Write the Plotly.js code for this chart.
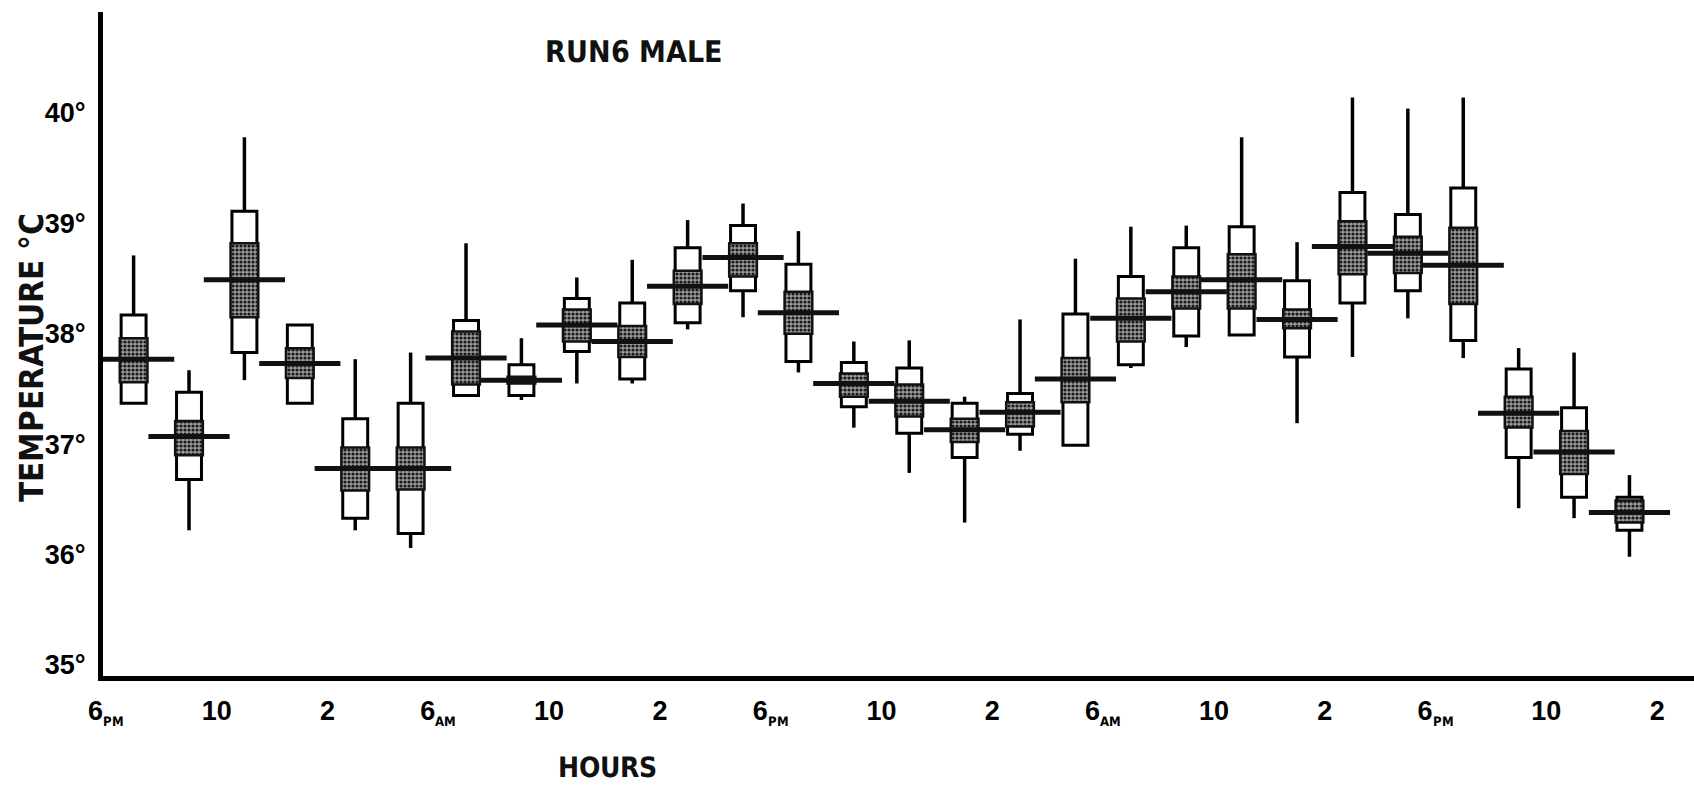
<!DOCTYPE html>
<html>
<head>
<meta charset="utf-8">
<script src="https://cdn.plot.ly/plotly-3.0.1.min.js"></script>
<style>
  @font-face {
    font-family: 'CondBold';
    src: local('Liberation Sans Narrow Bold'), local('LiberationSansNarrow-Bold'),
         local('Noto Sans ExtraCondensed Bold'), local('NotoSans-ExtraCondensedBold'),
         local('Noto Sans Condensed Bold'), local('NotoSans-CondensedBold'),
         local('DejaVu Sans Condensed Bold'), local('DejaVuSansCondensed-Bold');
    font-weight: 700;
  }
  html, body { margin: 0; padding: 0; background: #ffffff; }
  #chart { width: 1694px; height: 786px; }
</style>
</head>
<body>
<div id="chart"></div>
<script>
// Hours after 6 PM of day 1 at which each reading was taken
const hours = [1, 3, 5, 7, 9, 11, 13, 15, 17, 19, 21, 23, 25, 27, 29, 31, 33, 35, 37, 39, 41, 43, 45, 47, 49, 51, 53, 55];

// Temperatures (deg C)
const whiskerHigh = [38.71, 37.67, 39.78, 38.08, 37.77, 37.83, 38.82, 37.96, 38.51, 38.67, 39.03, 39.18, 38.93, 37.93, 37.94, 37.43, 38.13, 38.68, 38.97, 38.98, 39.78, 38.83, 40.14, 40.04, 40.14, 37.87, 37.83, 36.72];
const boxHigh     = [38.17, 37.47, 39.11, 38.08, 37.23, 37.37, 38.12, 37.72, 38.32, 38.28, 38.78, 38.98, 38.63, 37.74, 37.69, 37.37, 37.46, 38.18, 38.52, 38.78, 38.97, 38.48, 39.28, 39.08, 39.32, 37.68, 37.33, 36.52];
const shadeHigh   = [37.96, 37.21, 38.82, 37.87, 36.97, 36.97, 38.02, 37.61, 38.22, 38.07, 38.57, 38.82, 38.38, 37.64, 37.54, 37.23, 37.38, 37.78, 38.32, 38.52, 38.72, 38.22, 39.02, 38.88, 38.96, 37.43, 37.12, 36.49];
const meanTemp    = [37.77, 37.07, 38.49, 37.73, 36.78, 36.78, 37.78, 37.58, 38.08, 37.93, 38.43, 38.69, 38.19, 37.55, 37.39, 37.13, 37.29, 37.59, 38.14, 38.38, 38.49, 38.13, 38.79, 38.73, 38.62, 37.28, 36.93, 36.38];
const shadeLow    = [37.56, 36.90, 38.15, 37.60, 36.58, 36.59, 37.54, 37.55, 37.93, 37.79, 38.27, 38.52, 38.00, 37.43, 37.25, 37.02, 37.16, 37.38, 37.93, 38.23, 38.23, 38.05, 38.54, 38.55, 38.27, 37.15, 36.73, 36.29];
const boxLow      = [37.37, 36.68, 37.83, 37.37, 36.33, 36.19, 37.44, 37.44, 37.84, 37.59, 38.10, 38.39, 37.75, 37.34, 37.10, 36.88, 37.09, 36.99, 37.72, 37.98, 37.99, 37.79, 38.28, 38.39, 37.94, 36.88, 36.52, 36.22];
const whiskerLow  = [37.37, 36.22, 37.58, 37.37, 36.22, 36.06, 37.44, 37.40, 37.55, 37.55, 38.04, 38.15, 37.65, 37.15, 36.74, 36.29, 36.94, 36.99, 37.69, 37.88, 37.99, 37.19, 37.79, 38.14, 37.78, 36.42, 36.33, 35.98];

// Axis ticks
const tickHours  = [0, 4, 8, 12, 16, 20, 24, 28, 32, 36, 40, 44, 48, 52, 56];
const tickLabels = ['6PM', '10', '2', '6AM', '10', '2', '6PM', '10', '2', '6AM', '10', '2', '6PM', '10', '2'];
const tempTicks  = [35, 36, 37, 38, 39, 40];
const tempLabels = ['35°', '36°', '37°', '38°', '39°', '40°'];

const condFamily = "CondBold, 'DejaVu Sans Condensed', sans-serif";

const tickText = tickLabels.map(function (s) {
  return s.replace(/^(\d+)(AM|PM)$/, '$1<sub><span style="font-size:13px;font-family:CondBold, sans-serif">$2</span></sub>');
});

const diff = function (a, b) { return a.map(function (v, i) { return v - b[i]; }); };
const zeros = hours.map(function () { return 0; });

const outerBox = {
  type: 'bar', x: hours, base: boxLow, y: diff(boxHigh, boxLow), width: 0.9,
  marker: { color: '#ffffff', line: { color: '#000000', width: 3 } },
  hoverinfo: 'skip', showlegend: false
};
const shadedBox = {
  type: 'bar', x: hours, base: shadeLow, y: diff(shadeHigh, shadeLow), width: 1.0,
  marker: {
    color: '#8e8e8e',
    line: { color: '#111111', width: 2.5 },
    pattern: { shape: '.', fgcolor: '#1a1a1a', bgcolor: '#9c9c9c', size: 4, solidity: 0.5 }
  },
  hoverinfo: 'skip', showlegend: false
};
const upperWhisker = {
  type: 'scatter', mode: 'markers', x: hours, y: boxHigh,
  marker: { size: 1, color: 'rgba(0,0,0,0)' },
  error_y: { type: 'data', symmetric: false, array: diff(whiskerHigh, boxHigh), arrayminus: zeros, width: 0, thickness: 3.5, color: '#000000' },
  hoverinfo: 'skip', showlegend: false
};
const lowerWhisker = {
  type: 'scatter', mode: 'markers', x: hours, y: boxLow,
  marker: { size: 1, color: 'rgba(0,0,0,0)' },
  error_y: { type: 'data', symmetric: false, array: zeros, arrayminus: diff(boxLow, whiskerLow), width: 0, thickness: 3.5, color: '#000000' },
  hoverinfo: 'skip', showlegend: false
};
const meanDash = {
  type: 'scatter', mode: 'markers', x: hours, y: meanTemp,
  marker: { symbol: 'line-ew', size: 58, color: '#000000', line: { color: '#111111', width: 5 } },
  hoverinfo: 'skip', showlegend: false
};

const tickFont = { family: 'Liberation Sans, Arial, sans-serif', size: 27, color: '#000000', weight: 'bold' };
const narrowFont = function (size) {
  return { family: condFamily, size: size, color: '#111111', weight: 'bold' };
};

const layout = {
  width: 1694, height: 786,
  paper_bgcolor: '#ffffff', plot_bgcolor: '#ffffff',
  margin: { l: 103, r: 0, t: 12, b: 110, pad: 0 },
  barmode: 'overlay',
  hovermode: false,
  showlegend: false,
  title: {
    text: 'RUN6 MALE', font: narrowFont(30),
    xref: 'container', yref: 'container', x: 0.3737, xanchor: 'center', y: 0.934, yanchor: 'middle'
  },
  xaxis: {
    range: [-0.105, 57.33],
    tickmode: 'array', tickvals: tickHours, ticktext: tickText,
    ticks: '', ticklabelstandoff: 7,
    tickfont: tickFont,
    showline: true, linewidth: 5, linecolor: '#000000',
    showgrid: false, zeroline: false, fixedrange: true
  },
  yaxis: {
    range: [34.9, 40.915],
    tickmode: 'array', tickvals: tempTicks, ticktext: tempLabels,
    ticks: '', ticklabelstandoff: 7,
    tickfont: tickFont,
    showline: true, linewidth: 5, linecolor: '#000000',
    showgrid: false, zeroline: false, fixedrange: true
  },
  annotations: [
    {
      text: 'TEMPERATURE °C', textangle: -90, font: narrowFont(33),
      xref: 'paper', yref: 'paper', x: -0.0444, y: 0.479, xanchor: 'center', yanchor: 'middle', showarrow: false
    },
    {
      text: 'HOURS', font: narrowFont(28),
      xref: 'paper', yref: 'paper', x: 0.317, y: -0.138, xanchor: 'center', yanchor: 'middle', showarrow: false
    }
  ]
};

Plotly.newPlot('chart', [outerBox, shadedBox, upperWhisker, lowerWhisker, meanDash], layout, { staticPlot: true, displayModeBar: false });
</script>
</body>
</html>
